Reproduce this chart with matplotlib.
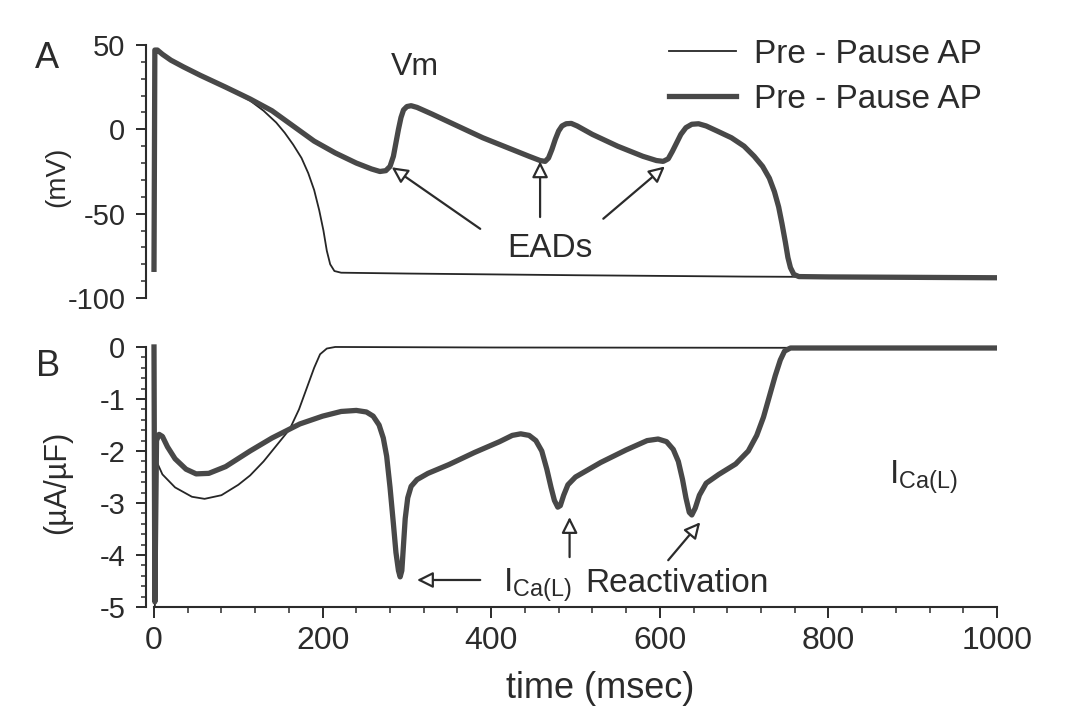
import matplotlib
matplotlib.use("Agg")
import matplotlib.pyplot as plt
from matplotlib.ticker import MultipleLocator

plt.rcParams['font.family'] = ['Liberation Sans', 'DejaVu Sans']
plt.rcParams['mathtext.fontset'] = 'custom'
plt.rcParams['mathtext.rm'] = 'Liberation Sans'
plt.rcParams['axes.unicode_minus'] = False

# membrane potential, pre-pause AP (thin)
t_vm_pre = [0, 1, 4, 10, 20, 35, 55, 85, 114, 130, 145, 155, 165, 175, 183, 190, 196, 201, 205, 209, 214, 222,
            300, 500, 700, 1000]
vm_pre = [-84, 47, 47, 44.5, 41, 37, 32, 25, 17, 11, 4, -2, -9, -17, -26, -36, -48, -60, -72, -80, -84, -85,
          -85.5, -86.5, -87.3, -88]

# membrane potential, post-pause AP (thick)
t_vm_post = [0, 1, 4, 10, 20, 35, 55, 85, 114, 140, 165, 190, 215, 240, 258, 268, 275, 280, 284, 287, 290,
             293, 296, 300, 305, 312, 330, 360, 390, 420, 445, 458, 464, 468, 472, 476, 480, 484, 489, 495,
             502, 520, 550, 580, 596, 604, 610, 615, 620, 625, 631, 638, 646, 655, 668, 685, 700, 712, 722,
             730, 736, 741, 745, 749, 752, 755, 759, 765, 800, 1000]
vm_post = [-83, 47, 47, 44.5, 41, 37, 32, 25, 18, 11, 2, -7, -14, -20, -23.5, -25, -24.5, -22, -16, -8, 0,
           7, 11.5, 13.5, 14, 13, 9, 2, -5, -11, -16, -18.5, -19, -17, -12, -6, -1, 2, 3.3, 3.5,
           2, -3, -10, -16, -18.5, -19, -17.5, -13, -8, -3, 1, 3, 3.3, 2, -1, -5, -10, -16, -22,
           -29, -37, -46, -56, -67, -76, -82, -86, -87.3, -87.5, -88]

# L-type calcium current, pre-pause AP (thin)
t_ica_pre = [0, 1, 3, 10, 25, 45, 60, 80, 100, 114, 130, 145, 161, 172, 181, 190, 197, 205, 215, 400, 1000]
ica_pre = [0, -5.0, -2.2, -2.45, -2.7, -2.88, -2.92, -2.85, -2.65, -2.47, -2.2, -1.9, -1.58, -1.2, -0.8, -0.4,
           -0.14, -0.03, 0, -0.01, -0.02]

# L-type calcium current, post-pause AP (thick)
t_ica_post = [0, 1, 3, 6, 10, 16, 25, 38, 50, 65, 85, 114, 140, 173, 200, 222, 240, 252, 260, 267, 272, 276,
              280, 284, 287, 290, 292, 294, 296, 298, 301, 305, 312, 325, 350, 380, 410, 425, 435, 445, 453,
              460, 466, 471, 475, 479, 482, 486, 491, 500, 530, 560, 585, 598, 608, 616, 622, 627, 631, 635,
              638, 642, 647, 655, 670, 690, 705, 715, 723, 730, 737, 743, 748, 755, 1000]
ica_post = [0, -4.9, -1.8, -1.68, -1.72, -1.92, -2.15, -2.35, -2.44, -2.43, -2.3, -2.0, -1.75, -1.48, -1.33,
            -1.24, -1.22, -1.25, -1.33, -1.5, -1.75, -2.1, -2.7, -3.4, -3.95, -4.3, -4.42, -4.3, -3.8, -3.3,
            -2.9, -2.68, -2.55, -2.43, -2.26, -2.03, -1.82, -1.7, -1.67, -1.7, -1.8, -2.0, -2.35, -2.7, -2.95,
            -3.08, -3.05, -2.85, -2.65, -2.5, -2.22, -1.98, -1.8, -1.77, -1.82, -1.97, -2.2, -2.55, -2.9, -3.18,
            -3.23, -3.1, -2.85, -2.62, -2.45, -2.25, -2.0, -1.7, -1.35, -0.95, -0.55, -0.25, -0.08, -0.02, -0.02]

thin_c = '#262626'
thick_c = '#484848'
ink = '#2b2b2b'

fig = plt.figure(figsize=(10.68, 7.15), dpi=100)
ax1 = fig.add_axes([0.1363, 0.5785, 0.7972, 0.3633])
ax2 = fig.add_axes([0.1363, 0.151, 0.7972, 0.371])

ax1.plot(t_vm_pre, vm_pre, color=thin_c, lw=1.3, label='Pre - Pause AP')
ax1.plot(t_vm_post, vm_post, color=thick_c, lw=3.8, label='Pre - Pause AP', solid_joinstyle='round')
ax2.plot(t_ica_pre, ica_pre, color=thin_c, lw=1.3)
ax2.plot(t_ica_post, ica_post, color=thick_c, lw=3.8, solid_joinstyle='round')

for ax in (ax1, ax2):
    ax.set_xlim(-10, 1000)
    for s in ('top', 'right'):
        ax.spines[s].set_visible(False)
    ax.spines['left'].set_linewidth(1.5)
    ax.spines['left'].set_color(ink)
    ax.tick_params(axis='y', which='major', direction='out', length=7.5, width=1.4, colors=ink,
                   labelsize=21, pad=7)
    ax.tick_params(axis='y', which='minor', direction='out', length=3.8, width=1.1, colors=ink)

ax1.spines['bottom'].set_visible(False)
ax1.set_xticks([])
ax1.set_ylim(-102, 52)
ax1.spines['left'].set_bounds(-100, 50)
ax1.yaxis.set_major_locator(MultipleLocator(50))
ax1.yaxis.set_minor_locator(MultipleLocator(10))

ax2.set_ylim(-5, 0.1)
ax2.spines['left'].set_bounds(-5, 0)
ax2.spines['bottom'].set_bounds(0, 1000)
ax2.spines['bottom'].set_linewidth(1.5)
ax2.spines['bottom'].set_color(ink)
ax2.yaxis.set_major_locator(MultipleLocator(1))
ax2.yaxis.set_minor_locator(MultipleLocator(0.2))
ax2.xaxis.set_major_locator(MultipleLocator(200))
ax2.xaxis.set_minor_locator(MultipleLocator(40))
ax2.tick_params(axis='x', which='major', direction='out', length=8, width=1.4, colors=ink, labelsize=23, pad=6)
ax2.tick_params(axis='x', which='minor', direction='out', length=4, width=1.1, colors=ink)


def ftext(x, y, s, **kw):
    # place text in reference pixel coords (origin top-left)
    fig.text(x / 1068, 1 - y / 715, s, color=ink, **kw)


ftext(47, 58, 'A', fontsize=26, ha='center', va='center')
ftext(48, 367, 'B', fontsize=26, ha='center', va='center')
ftext(57, 177, '(mV)', fontsize=20, ha='center', va='center', rotation=90)
ftext(57, 482, '(\u00b5A/\u00b5F)', fontsize=22, ha='center', va='center', rotation=90)
ftext(600, 688, 'time (msec)', fontsize=26, ha='center', va='center')

leg = ax1.legend(loc='upper left', bbox_to_anchor=(669 / 1068, 1 - 39 / 715), bbox_transform=fig.transFigure,
                 frameon=False, fontsize=24, handlelength=2.0, handletextpad=0.55, labelspacing=0.41,
                 borderpad=0, borderaxespad=0)
for txt in leg.get_texts():
    txt.set_color(ink)

ax1.text(310, 37, 'Vm', fontsize=23, color=ink, ha='center', va='center')
ax1.text(470, -70.5, 'EADs', fontsize=24, color=ink, ha='center', va='center')

arrow = dict(arrowstyle='-|>', fc='white', ec=ink, lw=1.6, mutation_scale=24, shrinkA=0, shrinkB=0)
ax1.annotate('', xy=(282, -22.5), xytext=(387, -59), arrowprops=arrow)
ax1.annotate('', xy=(458, -19), xytext=(458, -52), arrowprops=arrow)
ax1.annotate('', xy=(606, -22), xytext=(533, -53), arrowprops=arrow)

ax2.text(872, -2.62, r'$\mathregular{I_{Ca(L)}}$', fontsize=24, color=ink, ha='left', va='baseline')
ax2.text(414, -4.71, r'$\mathregular{I_{Ca(L)}}$', fontsize=24, color=ink, ha='left', va='baseline')
ax2.text(511, -4.71, 'Reactivation', fontsize=24, color=ink, ha='left', va='baseline')
ax2.annotate('', xy=(312, -4.48), xytext=(387, -4.48), arrowprops=arrow)
ax2.annotate('', xy=(493, -3.27), xytext=(493, -4.04), arrowprops=arrow)
ax2.annotate('', xy=(648, -3.37), xytext=(610, -4.1), arrowprops=arrow)

fig.savefig('out.png', dpi=100)
